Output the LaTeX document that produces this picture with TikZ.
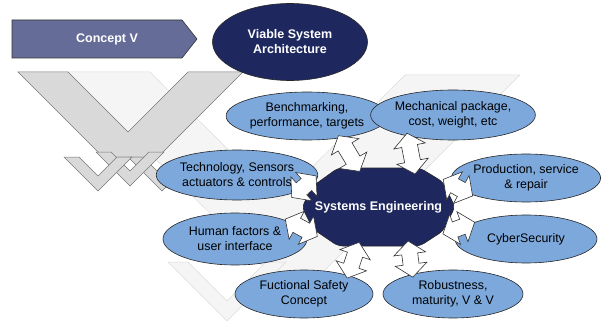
\documentclass[tikz,border=0pt]{standalone}
\usepackage{fontspec}
\setmainfont{Liberation Sans}
\usetikzlibrary{calc,shapes.geometric}
\definecolor{navy}{RGB}{30,40,95}
\definecolor{lblue}{RGB}{124,168,220}
\definecolor{slate}{RGB}{102,108,152}
\definecolor{vdark}{RGB}{217,217,217}
\definecolor{vlight}{RGB}{245,245,245}
\definecolor{vline}{RGB}{120,120,120}
\definecolor{vlightline}{RGB}{220,220,220}
\tikzset{
  bub/.style={ellipse, draw=black!85, line width=0.6pt, fill=lblue, inner sep=0pt,
    align=center, font=\fontsize{12.4}{15}\selectfont},
  darkbub/.style={ellipse, draw=black!85, line width=0.6pt, fill=navy, text=white,
    inner sep=0pt, align=center, font=\bfseries\fontsize{12.5}{15}\selectfont},
  setext/.style={ellipse, inner sep=0pt, text=white, minimum width=154pt, minimum height=78pt,
    font=\bfseries\fontsize{12.5}{15}\selectfont},
  sefill/.style={fill=navy, draw=black!85, line width=0.6pt, rounded corners=5pt},
  concbox/.style={fill=slate, draw=black!80, line width=0.6pt},
  conctext/.style={text=white, font=\bfseries\fontsize{12.5}{15}\selectfont},
  dv/.style={fill=vdark, draw=vline, line width=0.5pt, line join=miter},
  lv/.style={fill=vlight, draw=vlightline, line width=0.5pt, line join=miter},
  blk/.style={fill=white, draw=black!80, line width=0.6pt, line join=miter},
}
% double block arrow: #1 extension, #2 from, #3 to
\newcommand\dblarr[3]{%
  \draw[blk] let \p1=(#2), \p2=(#3),
     \n1={atan2(\y2-\y1,\x2-\x1)},
     \n2={veclen(\x2-\x1,\y2-\y1)+#1} in
    [shift={(\p1)}, rotate=\n1]
    (-#1,0) -- (-#1+13,16) -- (-#1+13,8) -- (\n2-13,8) -- (\n2-13,16) -- (\n2,0)
    -- (\n2-13,-16) -- (\n2-13,-8) -- (-#1+13,-8) -- (-#1+13,-16) -- cycle;
}
\begin{document}
\begin{tikzpicture}[x=1pt,y=-1pt]
\useasboundingbox (0,0) rectangle (603,321);

% light background V shapes
\path[lv] (68,72) -- (150,72) -- (279,200) -- (405,75) -- (520,75) -- (296,299) -- cycle;
\path[lv] (168,262) -- (188,262) -- (227,301) -- (266,262) -- (286,262) -- (227,321) -- cycle;

% dark grey V shapes
\path[dv] (18,72) -- (68,72) -- (128,132) -- (188,72) -- (243,72) -- (158,157) -- (103,157) -- cycle;
\path[dv] (128,157) -- (143,157) -- (162,176) -- (181,157) -- (196,157) -- (162,191) -- cycle;
\path[dv] (96,152) -- (111,152) -- (130,171) -- (149,152) -- (164,152) -- (130,186) -- cycle;
\path[dv] (64,157) -- (79,157) -- (98,176) -- (117,157) -- (132,157) -- (98,191) -- cycle;

% Concept V arrow
\path[concbox] (12,20) -- (182,20) -- (197,39) -- (182,58) -- (12,58) -- cycle;
\node[conctext] (cv) at (107,39) {Concept V};

% Viable System Architecture
\node[darkbub, minimum width=155pt, minimum height=77pt] (vsa) at (290,42)
  {Viable System\\Architecture};

% outer ellipses
\node[bub, minimum width=130pt, minimum height=48pt] (bench) at (307,116) {Benchmarking,\\performance, targets};
\node[bub, minimum width=140pt, minimum height=50pt] (mech) at (453,115) {Mechanical package,\\cost, weight, etc};
\node[bub, minimum width=140pt, minimum height=50pt] (tech) at (237,175) {Technology, Sensors\\actuators \& controls};
\node[bub, minimum width=142pt, minimum height=48pt] (prod) at (526,178) {Production, service\\\& repair};
\node[bub, minimum width=144pt, minimum height=52pt] (human) at (235,239) {Human factors \&\\user interface};
\node[bub, minimum width=142pt, minimum height=48pt] (cyber) at (526,239) {CyberSecurity};
\node[bub, minimum width=138pt, minimum height=48pt] (fsc) at (304,294) {Fuctional Safety\\Concept};
\node[bub, minimum width=140pt, minimum height=48pt] (rob) at (453,294) {Robustness,\\maturity, V \& V};

% Systems Engineering centre
\path[sefill] (302,207) -- (313,186) -- (338,168) -- (420,168) -- (443,182) -- (455,207)
  -- (443,231) -- (420,246) -- (338,246) -- (313,229) -- cycle;
\node[setext] (se) at (378.5,207) {Systems Engineering};

% double block arrows
\dblarr{3}{se.118}{bench.-34}
\dblarr{3}{se.45}{mech.-155}
\dblarr{9}{se.160}{tech.-15}
\dblarr{9}{se.200}{human.15}
\dblarr{5}{se.20}{prod.195}
\dblarr{5}{se.-20}{cyber.165}
\dblarr{3}{se.-118}{fsc.23}
\dblarr{3}{se.-51}{rob.154}
\end{tikzpicture}
\end{document}
